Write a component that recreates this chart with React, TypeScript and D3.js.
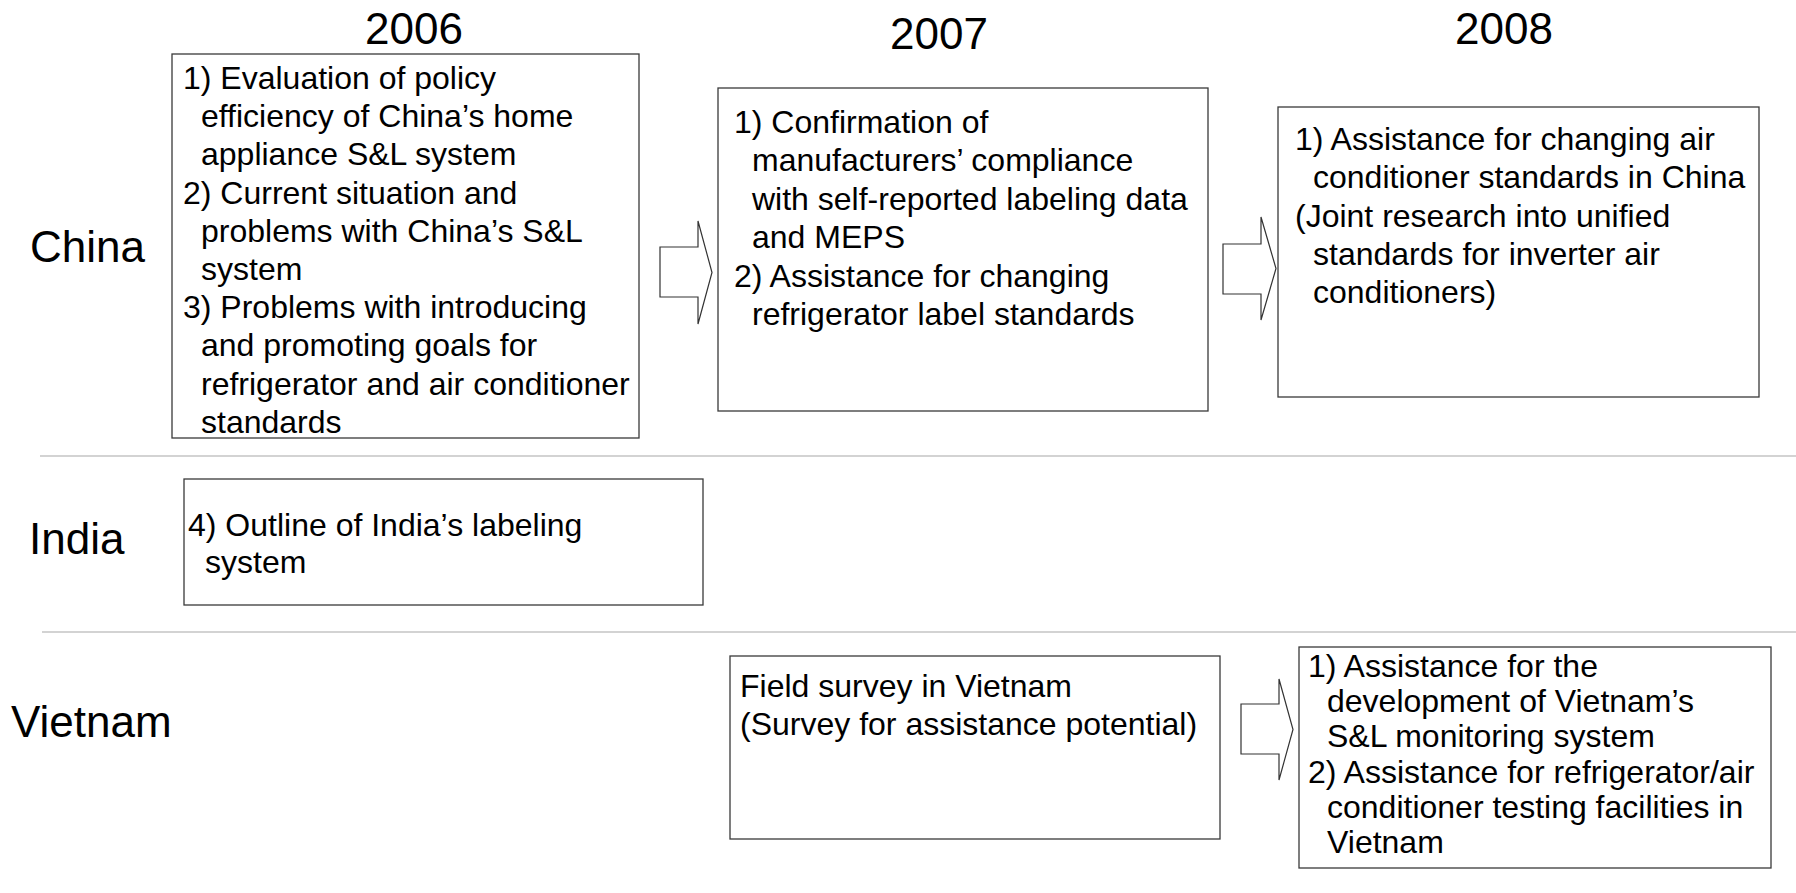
import React from "react";
import * as d3 from "d3";

// ---- content ----
const years = ["2006", "2007", "2008"];
const countries = ["China", "India", "Vietnam"];

// lines starting with a space are hanging-indented continuation lines
const china2006 = [
  "1) Evaluation of policy",
  " efficiency of China’s home",
  " appliance S&L system",
  "2) Current situation and",
  " problems with China’s S&L",
  " system",
  "3) Problems with introducing",
  " and promoting goals for",
  " refrigerator and air conditioner",
  " standards",
];
const china2007 = [
  "1) Confirmation of",
  " manufacturers’ compliance",
  " with self-reported labeling data",
  " and MEPS",
  "2) Assistance for changing",
  " refrigerator label standards",
];
const china2008 = [
  "1) Assistance for changing air",
  " conditioner standards in China",
  "(Joint research into unified",
  " standards for inverter air",
  " conditioners)",
];
const india2006 = ["4) Outline of India’s labeling", " system"];
const vietnam2007 = ["Field survey in Vietnam", "(Survey for assistance potential)"];
const vietnam2008 = [
  "1) Assistance for the",
  " development of Vietnam’s",
  " S&L monitoring system",
  "2) Assistance for refrigerator/air",
  " conditioner testing facilities in",
  " Vietnam",
];

// ---- layout ----
const W = 1796;
const H = 893;
const FONT = "'Liberation Sans', Arial, Helvetica, sans-serif";

const yearPos = [
  { x: 414, y: 44 },
  { x: 939, y: 49 },
  { x: 1504, y: 44 },
];
const countryPos = [
  { x: 30, y: 262 },
  { x: 29, y: 554 },
  { x: 11, y: 737 },
];
const separators = [
  { x0: 40, y: 456 },
  { x0: 42, y: 632 },
];

const boxes = [
  { lines: china2006, x: 172, y: 54, w: 467, h: 384, tx: 183, ind: 18, y0: 89, lh: 38.2 },
  { lines: china2007, x: 718, y: 88, w: 490, h: 323, tx: 734, ind: 18, y0: 133, lh: 38.4 },
  { lines: china2008, x: 1278, y: 107, w: 481, h: 290, tx: 1295, ind: 18, y0: 150, lh: 38.25 },
  { lines: india2006, x: 184, y: 479, w: 519, h: 126, tx: 188, ind: 17, y0: 536, lh: 37 },
  { lines: vietnam2007, x: 730, y: 656, w: 490, h: 183, tx: 740, ind: 0, y0: 697, lh: 38 },
  { lines: vietnam2008, x: 1299, y: 647, w: 472, h: 221, tx: 1308, ind: 19, y0: 677, lh: 35.2 },
];

const arrows = [
  { x0: 660, hb: 698, tip: 712, sy0: 247, sy1: 297, hy0: 221, hy1: 324 },
  { x0: 1223, hb: 1261, tip: 1276, sy0: 244, sy1: 294, hy0: 217, hy1: 320 },
  { x0: 1241, hb: 1279, tip: 1293, sy0: 704, sy1: 754, hy0: 679, hy1: 780 },
];

const lineGen = d3.line<[number, number]>().curve(d3.curveLinearClosed);

function arrowPath(a: typeof arrows[number]) {
  const ty = (a.hy0 + a.hy1) / 2;
  const pts: [number, number][] = [
    [a.x0, a.sy0],
    [a.hb, a.sy0],
    [a.hb, a.hy0],
    [a.tip, ty],
    [a.hb, a.hy1],
    [a.hb, a.sy1],
    [a.x0, a.sy1],
  ];
  return lineGen(pts) || "";
}

export default function App() {
  return (
    <svg
      width={W}
      height={H}
      viewBox={`0 0 ${W} ${H}`}
      style={{ position: "absolute", left: 0, top: 0, background: "#fff" }}
      fontFamily={FONT}
    >
      <rect x={0} y={0} width={W} height={H} fill="#fff" />
      {separators.map((s, i) => (
        <line key={i} x1={s.x0} x2={W} y1={s.y} y2={s.y} stroke="#c4c4c4" strokeWidth={1.6} />
      ))}
      {years.map((y, i) => (
        <text key={y} x={yearPos[i].x} y={yearPos[i].y} fontSize={44} textAnchor="middle" fill="#000">
          {y}
        </text>
      ))}
      {countries.map((c, i) => (
        <text key={c} x={countryPos[i].x} y={countryPos[i].y} fontSize={44} fill="#000">
          {c}
        </text>
      ))}
      {boxes.map((b, bi) => (
        <g key={bi}>
          <rect x={b.x} y={b.y} width={b.w} height={b.h} fill="#fff" stroke="#3a3a3a" strokeWidth={1.3} />
          {b.lines.map((ln, li) => {
            const indented = ln.startsWith(" ");
            return (
              <text
                key={li}
                x={b.tx + (indented ? b.ind : 0)}
                y={b.y0 + li * b.lh}
                fontSize={32}
                fill="#000"
              >
                {ln.trim()}
              </text>
            );
          })}
        </g>
      ))}
      {arrows.map((a, i) => (
        <path key={i} d={arrowPath(a)} fill="#fff" stroke="#333" strokeWidth={1.2} strokeLinejoin="miter" />
      ))}
    </svg>
  );
}
